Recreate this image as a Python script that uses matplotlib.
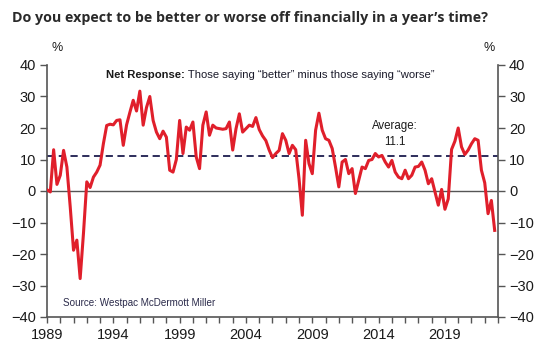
import numpy as np
import matplotlib
matplotlib.use("Agg")
import matplotlib.pyplot as plt
from matplotlib.ticker import MultipleLocator

# quarterly net response, 1989 Q1 .. 2022 Q4
net = [
    0.4, -0.3, 13.1, 2.1,      # 1989
    5.0, 12.9, 7.6, -5.0,      # 1990
    -18.8, -15.6, -27.8, -13.4,  # 1991
    2.9, 1.1, 4.4, 6.0,        # 1992
    8.2, 15.0, 20.8, 21.2,     # 1993
    21.0, 22.4, 22.6, 14.5,    # 1994
    21.0, 25.0, 28.8, 25.4,    # 1995
    31.7, 20.9, 26.5, 30.0,    # 1996
    22.4, 18.7, 16.6, 19.0,    # 1997
    17.1, 6.6, 6.0, 10.0,      # 1998
    22.4, 11.9, 20.3, 19.3,    # 1999
    21.9, 10.8, 7.1, 20.9,     # 2000
    25.1, 17.7, 20.9, 20.0,    # 2001
    19.8, 19.6, 19.8, 21.9,    # 2002
    13.0, 19.8, 24.5, 18.7,    # 2003
    19.8, 20.9, 20.5, 23.3,    # 2004
    19.5, 17.5, 16.0, 13.0,    # 2005
    10.6, 11.9, 12.9, 18.2,    # 2006
    16.1, 11.9, 14.5, 13.1,    # 2007
    3.9, -7.7, 16.1, 8.7,      # 2008
    5.5, 19.3, 24.7, 19.3,     # 2009
    16.6, 16.1, 13.5, 7.6,     # 2010
    1.3, 9.2, 10.0, 5.5,       # 2011
    7.1, -0.8, 3.4, 7.6,       # 2012
    7.1, 9.7, 10.0, 11.9,      # 2013
    10.8, 11.3, 9.2, 7.6,      # 2014
    9.7, 6.0, 4.4, 3.9,        # 2015
    6.6, 3.9, 5.0, 7.6,        # 2016
    7.8, 9.2, 6.6, 2.3,        # 2017
    3.9, -0.3, -4.5, 0.5,      # 2018
    -5.8, -2.5, 13.2, 15.8,    # 2019
    20.0, 14.0, 11.6, 13.0,    # 2020
    15.0, 16.6, 16.1, 6.6,     # 2021
    2.6, -7.2, -3.0, -12.5,    # 2022
]
dates = 1989 + np.arange(len(net)) * 0.25
average = 11.1
year_ticks = [1989, 1994, 1999, 2004, 2009, 2014, 2019]
y_ticks = [-40, -30, -20, -10, 0, 10, 20, 30, 40]

plt.rcParams['font.family'] = ['Liberation Sans', 'DejaVu Sans']

fig = plt.figure(figsize=(5.46, 3.6), dpi=100)
ax = fig.add_axes([47/546, 1-317/360, 451/546, 252/360])

red = '#e01f2b'
navy = '#1c1c4e'
grey = '#555555'

ax.axhline(0, color=grey, lw=1.0, zorder=1)
ax.axhline(average, color=navy, lw=1.3, ls=(0, (4, 2.5)), zorder=2)
ax.plot(dates, net, color=red, lw=2.2, solid_joinstyle='round', zorder=3)

ax.set_xlim(1989, 2023)
ax.set_ylim(-40, 40)
ax.set_xticks(year_ticks)
ax.xaxis.set_minor_locator(MultipleLocator(1))
ax.set_yticks(y_ticks)

for s in ['left', 'right', 'bottom']:
    ax.spines[s].set_color(grey)
    ax.spines[s].set_linewidth(1.2)
ax.spines['top'].set_visible(False)

ax.tick_params(axis='y', which='both', direction='out', length=5, width=1, color=grey,
               left=True, right=True, labelleft=True, labelright=True,
               labelsize=10.5, labelcolor='#1a1a1a', pad=3)
ax.tick_params(axis='x', which='both', direction='out', length=4, width=1, color=grey,
               labelsize=10.5, labelcolor='#1a1a1a', pad=4)

fig.text(12/546, 1-18/360, "Do you expect to be better or worse off financially in a year\u2019s time?",
         fontsize=10.3, fontweight='bold', family=['Open Sans', 'DejaVu Sans'],
         color='#2a2a2a', va='center', ha='left')

fig.text(57/546, 1-48/360, '%', fontsize=9, ha='center', va='center', color='#1a1a1a')
fig.text(489/546, 1-48/360, '%', fontsize=9, ha='center', va='center', color='#1a1a1a')

# subtitle: bold lead-in followed by regular text
lead = fig.text(106/546, 1-75/360, 'Net Response:', fontsize=8.1,
                fontweight='bold', ha='left', va='center', color='#1a1a1a')
ax.annotate(' Those saying \u201cbetter\u201d minus those saying \u201cworse\u201d',
            xy=(1, 0.5), xycoords=lead, fontsize=8.1, ha='left', va='center',
            color='#1a1a2a')

ax.text(2015.2, 18.0, 'Average:\n11.1', fontsize=8.3, ha='center', va='center',
        color='#1a1a1a', linespacing=1.4)

ax.text(1990.2, -35.5, 'Source: Westpac McDermott Miller', fontsize=7.1,
        ha='left', va='center', color='#2a2a4a')

fig.savefig('out.png', dpi=100)
